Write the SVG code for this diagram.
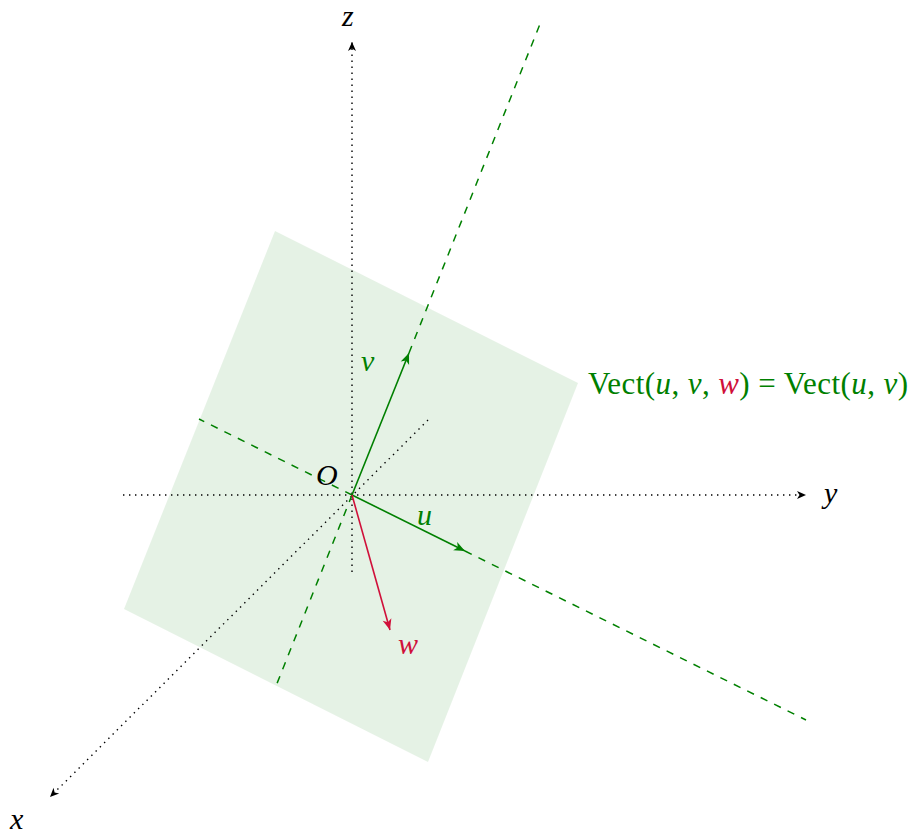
<svg xmlns="http://www.w3.org/2000/svg" width="911" height="834" viewBox="0 0 911 834">
<style>
.dot{stroke:#000;stroke-width:1.4;stroke-dasharray:1.4 4.6;fill:none}
.dash{stroke:#008000;stroke-width:1.5;stroke-dasharray:7.5 7.5;fill:none}
.vg{stroke:#008000;stroke-width:1.6;fill:none}
.vr{stroke:#d0103a;stroke-width:1.6;fill:none}
.lbl{font-family:"Liberation Serif",serif;font-style:italic;font-size:30px}
.vect{font-family:"Liberation Serif",serif;font-size:31px;fill:#008000}
</style>
<defs>
<marker id="ak" markerWidth="12" markerHeight="12" refX="10" refY="6" orient="auto" markerUnits="userSpaceOnUse"><path d="M1,2 L10,6 L1,10 L3.5,6 Z" fill="#000"/></marker>
<marker id="ag" markerWidth="14" markerHeight="14" refX="12" refY="7" orient="auto" markerUnits="userSpaceOnUse"><path d="M1,2.5 L12,7 L1,11.5 L4,7 Z" fill="#008000"/></marker>
<marker id="ar" markerWidth="14" markerHeight="14" refX="12" refY="7" orient="auto" markerUnits="userSpaceOnUse"><path d="M1,2.5 L12,7 L1,11.5 L4,7 Z" fill="#d0103a"/></marker>
</defs>
<g id="plane"><polygon points="275,231 578,383 428,762 124,609" fill="#008000" fill-opacity="0.1"/></g>
<g id="connectors">
<line class="dot" x1="352" y1="572" x2="352" y2="42" marker-end="url(#ak)"/>
<line class="dot" x1="123" y1="495" x2="806" y2="495" marker-end="url(#ak)"/>
<line class="dot" x1="428" y1="420" x2="50" y2="797" marker-end="url(#ak)"/>
<line class="dash" x1="352" y1="495" x2="199" y2="419"/>
<line class="dash" x1="465" y1="551" x2="806" y2="720"/>
<line class="dash" x1="352" y1="495" x2="276" y2="686"/>
<line class="dash" x1="409" y1="353" x2="540" y2="24"/>
<line class="vg" x1="352" y1="495" x2="465" y2="551" marker-end="url(#ag)"/>
<line class="vg" x1="352" y1="495" x2="409" y2="353" marker-end="url(#ag)"/>
<line class="vr" x1="352" y1="495" x2="390" y2="630" marker-end="url(#ar)"/>
</g>
<g id="labels">
<text class="lbl" x="342" y="26" font-size="28">z</text>
<text class="lbl" x="824" y="503">y</text>
<text class="lbl" x="10" y="829">x</text>
<text class="lbl" x="316" y="485">O</text>
<text class="lbl" x="361" y="371" fill="#008000">v</text>
<text class="lbl" x="417" y="525" fill="#008000">u</text>
<text class="lbl" x="398" y="654" fill="#d0103a">w</text>
<text class="vect" x="588" y="394" textLength="320" lengthAdjust="spacing">Vect(<tspan font-style="italic">u</tspan>, <tspan font-style="italic">v</tspan>, <tspan font-style="italic" fill="#d0103a">w</tspan>) = Vect(<tspan font-style="italic">u</tspan>, <tspan font-style="italic">v</tspan>)</text>
</g>
</svg>
